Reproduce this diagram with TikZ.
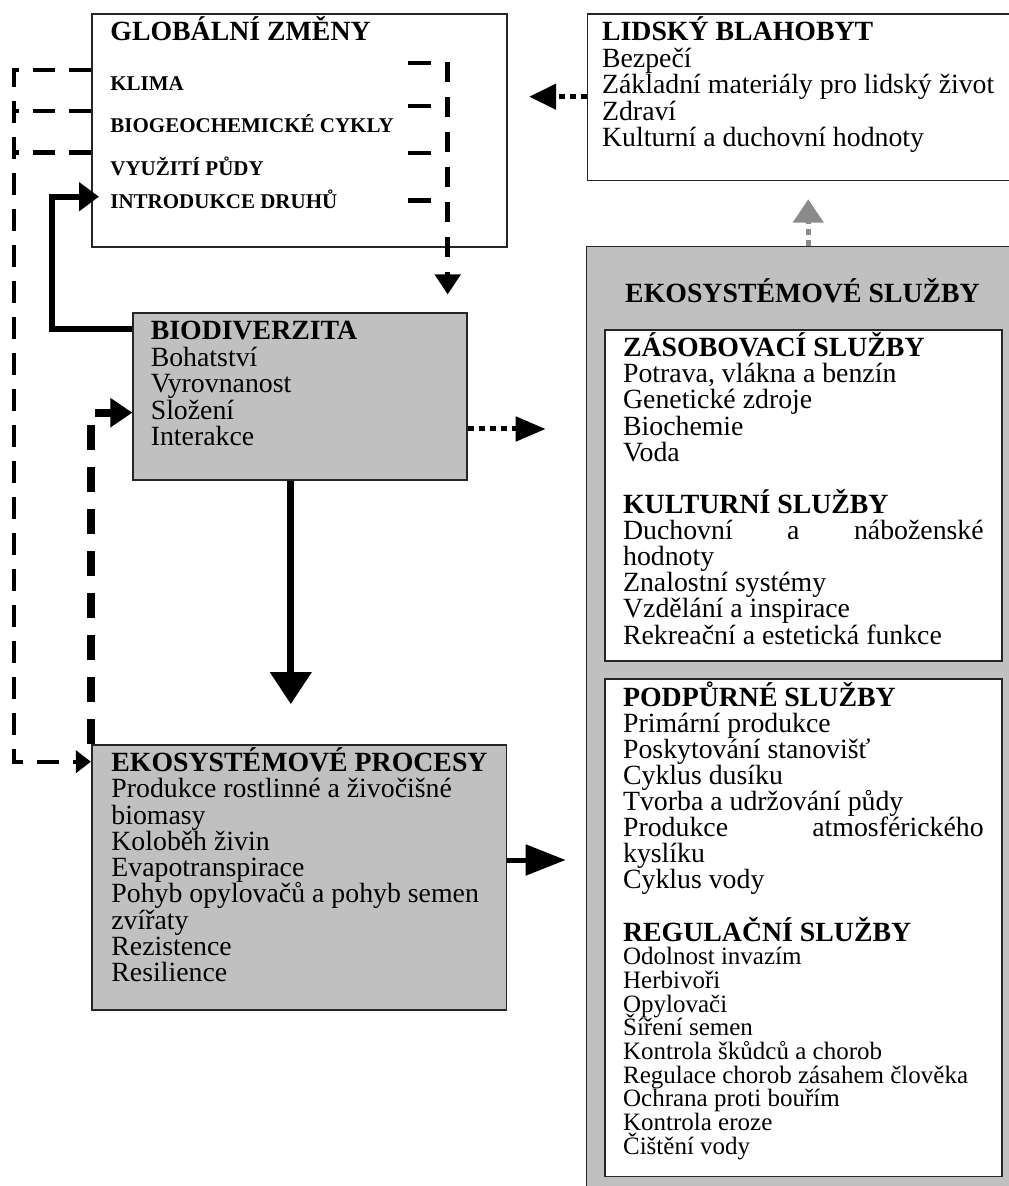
\documentclass[tikz,border=0pt]{standalone}
\usepackage{fontspec}
\setmainfont{Liberation Serif}
\usetikzlibrary{arrows.meta,fit}
\definecolor{grayfill}{HTML}{C0C0C0}
\definecolor{arrowgray}{HTML}{8A8A8A}
\definecolor{edge}{HTML}{262626}
\newcommand\bodyfont{\fontsize{13.9}{13.1}\selectfont}
\newcommand\gcfont{\fontsize{10.5}{12}\selectfont\bfseries}
\newcommand\regfont{\fontsize{12.5}{11.85}\selectfont}
\newcommand\txtstack[3]{\vtop{#1\baselineskip=#2\lineskiplimit=-\maxdimen\halign{##\hfil\cr#3\crcr}}}
\tikzset{
  boxw/.style={draw=edge, line width=0.8pt, fill=white, inner sep=0pt},
  boxg/.style={boxw, fill=grayfill},
  txt/.style={inner sep=0pt, anchor=base west},
  ldash/.style={line width=2.2pt, dash pattern=on 11pt off 7pt},
  gcdash/.style={line width=2.4pt, dash pattern=on 10pt off 7.5pt},
  gcshort/.style={line width=2.4pt, dash pattern=on 11.5pt off 20pt},
  thickdash/.style={line width=4pt, dash pattern=on 12.5pt off 8.5pt},
  dotline/.style={line width=2.5pt, dash pattern=on 3pt off 2.5pt},
  solidthick/.style={line width=3pt, line join=miter},
}
\begin{document}
\begin{tikzpicture}[x=0.5pt,y=-0.5pt]
\useasboundingbox (0,0) rectangle (1008,1186);
% boxes
\node[boxw, fit={(92,14) (507,247)}] (gc) {};
\node[boxw, fit={(587.3,14) (1030,180.5)}] (lb) {};
\node[boxg, fit={(133.2,313.3) (466.9,480)}] (bio) {};
\node[boxg, fit={(91.7,745) (506.5,1010)}] (ep) {};
\node[boxg, fit={(586.5,246.7) (1030,1210)}] (es) {};
\node[boxw, fit={(605,330) (1001.7,661)}] (in1) {};
\node[boxw, fit={(605,679) (1001.7,1176.5)}] (in2) {};
% texts
\node[txt] (gctitle) at (110,40.7) {\bodyfont\bfseries GLOBÁLNÍ ZMĚNY};
\node[txt] (gc1) at (110,90.7) {\gcfont KLIMA};
\node[txt] (gc2) at (110,132.7) {\gcfont BIOGEOCHEMICKÉ CYKLY};
\node[txt] (gc3) at (110,175.7) {\gcfont VYUŽITÍ PŮDY};
\node[txt] (gc4) at (110,209) {\gcfont INTRODUKCE DRUHŮ};
\node[txt] (lbtext) at (601.7,40.7) {\txtstack{\bodyfont}{13.25pt}{\textbf{LIDSKÝ BLAHOBYT}\cr Bezpečí\cr Základní materiály pro lidský život\cr Zdraví\cr Kulturní a duchovní hodnoty\cr}};
\node[txt] (biotext) at (150.4,340) {\txtstack{\bodyfont}{13.25pt}{\textbf{BIODIVERZITA}\cr Bohatství\cr Vyrovnanost\cr Složení\cr Interakce\cr}};
\node[txt] (eptext) at (111,771.7) {\txtstack{\bodyfont}{13.125pt}{\textbf{EKOSYSTÉMOVÉ PROCESY}\cr Produkce rostlinné a živočišné\cr biomasy\cr Koloběh živin\cr Evapotranspirace\cr Pohyb opylovačů a pohyb semen\cr zvířaty\cr Rezistence\cr Resilience\cr}};
\node[inner sep=0pt, anchor=base] (estitle) at (802.5,303) {\bodyfont\bfseries EKOSYSTÉMOVÉ SLUŽBY};
\node[txt] (in1text) at (622.7,356.7) {\txtstack{\bodyfont}{13.06pt}{\textbf{ZÁSOBOVACÍ SLUŽBY}\cr Potrava, vlákna a benzín\cr Genetické zdroje\cr Biochemie\cr Voda\cr \cr \textbf{KULTURNÍ SLUŽBY}\cr \makebox[180.3pt][s]{Duchovní a náboženské}\cr hodnoty\cr Znalostní systémy\cr Vzdělání a inspirace\cr Rekreační a estetická funkce\cr}};
\node[txt] (in2text) at (622.7,706) {\txtstack{\bodyfont}{13.05pt}{\textbf{PODPŮRNÉ SLUŽBY}\cr Primární produkce\cr Poskytování stanovišť\cr Cyklus dusíku\cr Tvorba a udržování půdy\cr \makebox[180.3pt][s]{Produkce atmosférického}\cr kyslíku\cr Cyklus vody\cr}};
\node[txt] (regtext) at (622.7,941) {\txtstack{\regfont}{11.85pt}{\bodyfont\bfseries REGULAČNÍ SLUŽBY\cr Odolnost invazím\cr Herbivoři\cr Opylovači\cr Šíření semen\cr Kontrola škůdců a chorob\cr Regulace chorob zásahem člověka\cr Ochrana proti bouřím\cr Kontrola eroze\cr Čištění vody\cr}};
% helper coordinates
\coordinate (yLB) at (0,96.7);
\coordinate (yBioES) at (0,429);
\coordinate (yEPES) at (0,860);
\coordinate (yL) at (0,329.3);
\coordinate (Lcorner) at (51.7,329.3);
\coordinate (tipGC) at (99,196.7);
\coordinate (y70) at (0,70);
\coordinate (y111) at (0,111);
\coordinate (y153) at (0,152.7);
\coordinate (yEPin) at (0,761.7);
\coordinate (Lx) at (14,0);
\coordinate (gcR) at (447.7,62);
\coordinate (k1) at (408,63);
\coordinate (k2) at (408,106);
\coordinate (k3) at (408,153);
\coordinate (k4) at (408,200.7);
\coordinate (yTD) at (0,412.7);
\coordinate (xDown) at (290.8,0);
% connectors
\draw[dotline, -{Triangle[length=13.5pt,width=12.5pt]}, shorten >=10.7pt] (lb.west |- yLB) -- (gc.east |- yLB);
\draw[dotline, arrowgray, -{Triangle[length=11.7pt,width=15pt]}, shorten >=9pt] (es.north) -- (es.north |- lb.south);
\draw[gcdash, -{Triangle[length=10pt,width=12.5pt]}, shorten >=9pt] (gcR) -- (gcR |- bio.north);
\draw[gcshort] (k1) -- (gcR |- k1);
\draw[gcshort] (k2) -- (gcR |- k2);
\draw[gcshort] (k3) -- (gcR |- k3);
\draw[gcshort] (k4) -- (gcR |- k4);
\draw[ldash] (gc.west |- y111) -- (Lx |- y111);
\draw[ldash] (gc.west |- y153) -- (Lx |- y153);
\draw[ldash, -{Triangle[length=7.5pt,width=11pt]}] (gc.west |- y70) -- (Lx |- y70) -- (Lx |- yEPin) -- (ep.west |- yEPin);
\draw[solidthick, -{Triangle[length=10pt,width=14pt]}] (bio.west |- yL) -- (Lcorner) |- (tipGC);
\draw[thickdash, -{Triangle[length=11pt,width=14pt]}] (ep.north west) -- (ep.north west |- yTD) -- (bio.west |- yTD);
\draw[line width=3.5pt, -{Triangle[length=16pt,width=20pt]}, shorten >=20pt] (xDown |- bio.south) -- (xDown |- ep.north);
\draw[dotline, -{Triangle[length=15pt,width=12pt]}, shorten >=20pt] (bio.east |- yBioES) -- (es.west |- yBioES);
\draw[line width=2.5pt, -{Triangle[length=20pt,width=15pt]}, shorten >=10pt] (ep.east |- yEPES) -- (es.west |- yEPES);
\end{tikzpicture}
\end{document}
